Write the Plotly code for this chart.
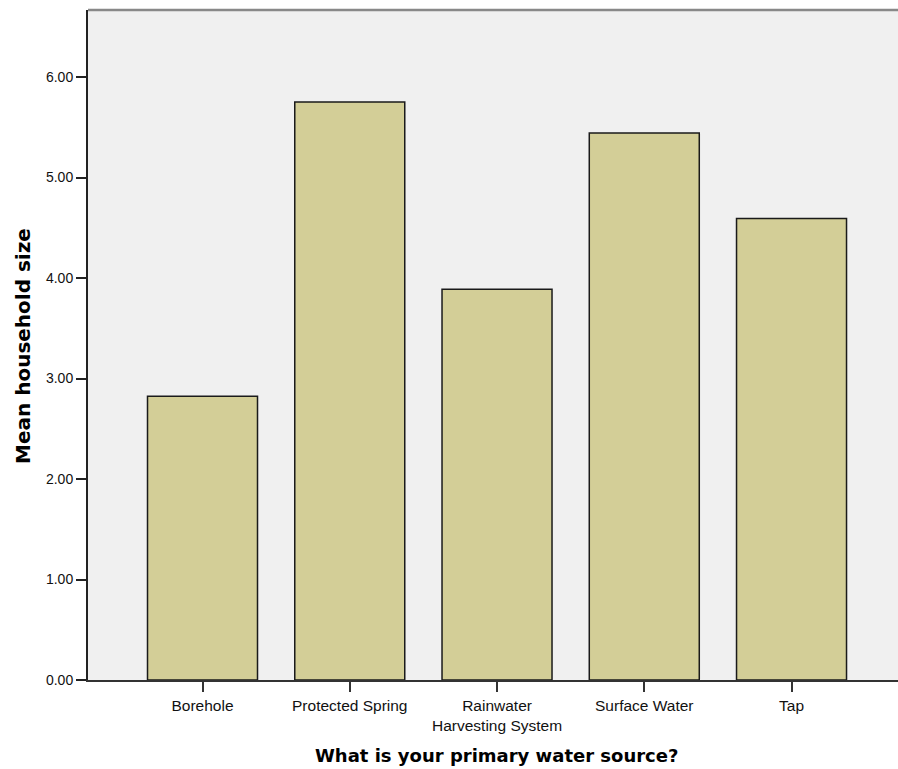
import plotly.graph_objects as go

categories = ["Borehole", "Protected Spring", "Rainwater<br>Harvesting System", "Surface Water", "Tap"]
means = [2.824, 5.751, 3.889, 5.443, 4.592]
y_ticks = [0, 1, 2, 3, 4, 5, 6]

fig = go.Figure()
fig.add_trace(go.Bar(
    x=list(range(len(categories))),
    y=means,
    width=0.747,
    marker=dict(color="#D3CE97", line=dict(color="#1a1a1a", width=1.5)),
))

title_font = dict(family="DejaVu Sans, Verdana, sans-serif", size=18, color="#000")

fig.update_layout(
    width=898, height=769,
    margin=dict(l=88, r=0, t=10, b=89),
    plot_bgcolor="#F0F0F0",
    paper_bgcolor="white",
    showlegend=False,
    font=dict(family="Liberation Sans, Arial, sans-serif", size=14, color="#111"),
    xaxis=dict(
        range=[-0.7776, 4.723],
        tickmode="array",
        tickvals=list(range(len(categories))),
        ticktext=categories,
        ticks="outside", ticklen=10, tickwidth=1.5, tickcolor="#333",
        showline=True, linecolor="#333", linewidth=2,
        showgrid=False, zeroline=False,
        tickfont=dict(size=15.5, color="#111"),
    ),
    yaxis=dict(
        range=[0, 6.667],
        tickmode="array",
        tickvals=y_ticks,
        tickformat=".2f",
        ticks="outside", ticklen=10, tickwidth=2, tickcolor="#222",
        showline=True, linecolor="#222", linewidth=2,
        showgrid=False, zeroline=False,
        tickfont=dict(size=14, color="#111"),
    ),
    shapes=[dict(type="line", xref="paper", yref="paper", x0=0, x1=1, y0=1, y1=1,
                 line=dict(color="#888", width=2.5))],
    annotations=[
        dict(text="<b>What is your primary water source?</b>",
             xref="paper", yref="paper", x=(496.5 - 88) / 810, y=-(755 - 680) / 670,
             xanchor="center", yanchor="middle", showarrow=False, font=title_font),
        dict(text="<b>Mean household size</b>",
             xref="paper", yref="paper", x=(23 - 88) / 810, y=(680 - 346) / 670,
             xanchor="center", yanchor="middle", showarrow=False, textangle=-90,
             font=dict(family="DejaVu Sans, Verdana, sans-serif", size=20, color="#000")),
    ],
)

fig.write_html("out.html", config={"displayModeBar": False},
               post_script="document.body.style.margin='0';document.body.style.overflow='hidden';")
